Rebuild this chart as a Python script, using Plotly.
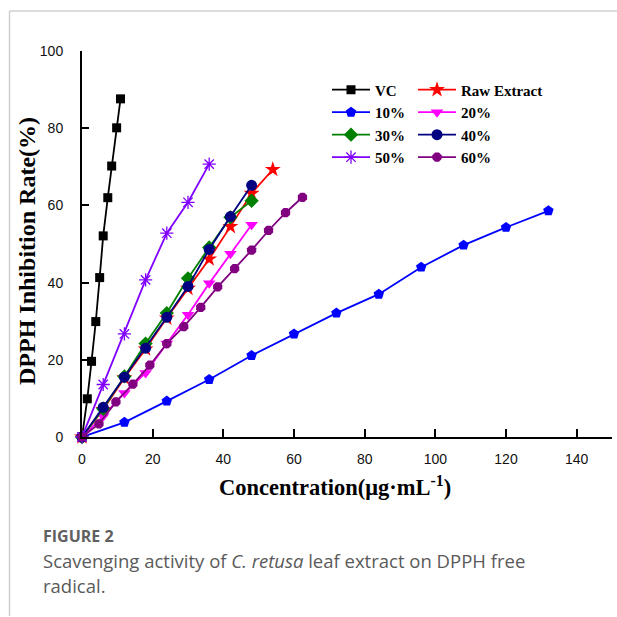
import plotly.graph_objects as go

# ---------------- data ----------------
vc_x = [0, 1.5, 2.7, 3.9, 5.0, 6.0, 7.3, 8.4, 9.8, 10.9]
vc_y = [0, 9.9, 19.6, 29.9, 41.3, 52.1, 62.0, 70.2, 80.1, 87.6]

raw_x = [0, 6, 12, 18, 24, 30, 36, 42, 48, 54]
raw_y = [0, 7.1, 15.3, 22.8, 30.8, 38.5, 46.1, 54.5, 63.1, 69.3]

p10_x = [0, 12, 24, 36, 48, 60, 72, 84, 96, 108, 120, 132]
p10_y = [0, 3.8, 9.3, 14.9, 21.1, 26.7, 32.1, 37.0, 44.0, 49.7, 54.3, 58.6]

p20_x = [0, 6, 12, 18, 24, 30, 36, 42, 48]
p20_y = [0, 5.4, 11.4, 16.6, 24.2, 31.7, 39.8, 47.5, 55.0]

p30_x = [0, 6, 12, 18, 24, 30, 36, 42, 48]
p30_y = [0, 7.3, 15.7, 24.2, 32.1, 41.1, 49.1, 56.9, 61.2]

p40_x = [0, 6, 12, 18, 24, 30, 36, 42, 48]
p40_y = [0, 7.7, 15.5, 23.0, 31.0, 39.0, 48.6, 57.1, 65.2]

p50_x = [0, 6, 12, 18, 24, 30, 36]
p50_y = [0, 13.6, 26.7, 40.7, 52.8, 60.8, 70.7]

p60_x = [0, 4.8, 9.6, 14.4, 19.2, 24, 28.8, 33.6, 38.4, 43.2, 48, 52.8, 57.6, 62.4]
p60_y = [0, 3.4, 9.1, 13.7, 18.6, 24.2, 28.6, 33.6, 38.9, 43.6, 48.4, 53.5, 58.1, 62.1]

x_ticks = [0, 20, 40, 60, 80, 100, 120, 140]
y_ticks = [0, 20, 40, 60, 80, 100]

# ---------------- geometry helpers ----------------
W = H = 617
L, R, T, B = 82, 5, 50.5, 179.5
PW = W - L - R
PH = H - T - B


def px(x):
    return (x - L) / PW


def py(y):
    return (H - B - y) / PH


serif = "Liberation Serif, Times New Roman, serif"
sans = "Liberation Sans, Arial, sans-serif"

fig = go.Figure()


def add(name, xs, ys, color, symbol, size, legend, open_marker=False):
    marker = dict(symbol=symbol, size=size, color=color)
    if open_marker:
        marker["line"] = dict(color=color, width=1.3)
    else:
        marker["line"] = dict(width=0)
    fig.add_trace(go.Scatter(
        x=xs, y=ys, name=name, mode="lines+markers",
        line=dict(color=color, width=1.8),
        marker=marker, cliponaxis=False, legend=legend,
    ))


add("VC", vc_x, vc_y, "#000000", "square", 9, "legend")
add("Raw Extract", raw_x, raw_y, "#FF0000", "star", 12, "legend2")
add("10%", p10_x, p10_y, "#0000FF", "pentagon", 11, "legend")
add("20%", p20_x, p20_y, "#FF00FF", "triangle-down", 11, "legend2")
add("30%", p30_x, p30_y, "#008000", "diamond", 11, "legend")
add("40%", p40_x, p40_y, "#000080", "circle", 11, "legend2")
add("50%", p50_x, p50_y, "#8000FF", "asterisk-open", 11, "legend", open_marker=True)
add("60%", p60_x, p60_y, "#800080", "octagon", 10, "legend2")

legend_common = dict(
    font=dict(family=serif, size=15, color="#000000", weight="bold"),
    bgcolor="rgba(0,0,0,0)", borderwidth=0,
    xanchor="left", yanchor="top", orientation="v",
    tracegroupgap=0, itemwidth=38,
)

fig.update_layout(
    width=W, height=H,
    margin=dict(l=L, r=R, t=T, b=B, pad=0),
    paper_bgcolor="white", plot_bgcolor="white",
    showlegend=True,
    legend=dict(x=px(327), y=py(73), **legend_common),
    legend2=dict(x=px(413), y=py(73), **legend_common),
    xaxis=dict(
        range=[0, 150], tickvals=x_ticks, ticktext=[str(v) for v in x_ticks],
        showline=True, linecolor="black", linewidth=2,
        ticks="inside", ticklen=8, tickwidth=2, tickcolor="black",
        showgrid=False, zeroline=False,
        tickfont=dict(family=sans, size=14, color="#111111"),
        ticklabelstandoff=8,
    ),
    yaxis=dict(
        range=[0, 100], tickvals=y_ticks, ticktext=[str(v) for v in y_ticks],
        showline=True, linecolor="black", linewidth=2,
        ticks="inside", ticklen=7, tickwidth=2, tickcolor="black",
        showgrid=False, zeroline=False,
        tickfont=dict(family=sans, size=14, color="#111111"),
        ticklabelstandoff=14,
    ),
)

annotations = [
    dict(text="<b>Concentration(μg·mL<sup>-1</sup>)</b>", x=px(335), y=py(487),
         xanchor="center", font=dict(family=serif, size=22.5, color="black")),
    dict(text="<b>DPPH Inhibition Rate(%)</b>", x=px(27), y=py(251), textangle=-90,
         xanchor="center", font=dict(family=serif, size=24, color="black")),
    dict(text="<b>FIGURE 2</b>", x=px(41), y=py(537), xanchor="left",
         font=dict(family="Open Sans, sans-serif", size=16, color="#606060")),
    dict(text="Scavenging activity of <i>C. retusa</i> leaf extract on DPPH free",
         x=px(41), y=py(561), xanchor="left",
         font=dict(family="Open Sans, sans-serif", size=18.5, color="#5a5a5a")),
    dict(text="radical.", x=px(41), y=py(586), xanchor="left",
         font=dict(family="Open Sans, sans-serif", size=18.5, color="#5a5a5a")),
]
for a in annotations:
    a.update(xref="paper", yref="paper", showarrow=False, yanchor="middle")
fig.update_layout(annotations=annotations)

# light frame lines at top and left of the figure card
fig.add_shape(type="line", xref="paper", yref="paper",
              x0=px(9.5), x1=px(617), y0=py(10.5), y1=py(10.5),
              line=dict(color="#d0d0d0", width=1.5))
fig.add_shape(type="line", xref="paper", yref="paper",
              x0=px(9.5), x1=px(9.5), y0=py(10.5), y1=py(617),
              line=dict(color="#d0d0d0", width=1.5))

fig.write_html(
    "out.html",
    config={"displayModeBar": False},
    post_script="document.body.style.margin='0';document.body.style.overflow='hidden';",
)
